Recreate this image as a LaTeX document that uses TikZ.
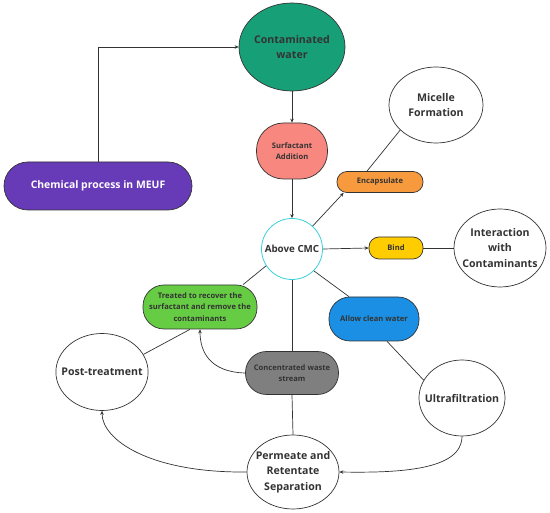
\documentclass[tikz,border=0pt]{standalone}
\usepackage{fontspec}
\setmainfont{Open Sans}
\usetikzlibrary{arrows.meta,shapes.geometric}

\definecolor{waterteal}{HTML}{17A078}
\definecolor{meufpurple}{HTML}{673AB7}
\definecolor{surfsalmon}{HTML}{F8877F}
\definecolor{encorange}{HTML}{F79A3E}
\definecolor{bindyellow}{HTML}{FFCC00}
\definecolor{cleanblue}{HTML}{1A8FE3}
\definecolor{wastegray}{HTML}{7F7F7F}
\definecolor{treatgreen}{HTML}{66CC44}
\definecolor{cmccyan}{HTML}{3CD0DC}
\definecolor{inkgray}{HTML}{333333}

\begin{document}
\begin{tikzpicture}[x=1pt,y=-1pt,
  bigtext/.style={font=\bfseries\fontsize{10.6}{15.3}\selectfont, text=inkgray, align=center},
  smalltext/.style={font=\bfseries\fontsize{7.6}{11.2}\selectfont, text=inkgray, align=center},
  ell/.style={ellipse, draw=inkgray, line width=0.7pt, inner sep=-8pt},
  pill/.style={rectangle, draw=inkgray, line width=0.7pt, inner sep=0pt},
  link/.style={draw=inkgray, line width=0.7pt},
  arr/.style={link, -{Stealth[length=4pt,width=3.5pt]}}]

% Frame of the picture
\useasboundingbox (0,0) rectangle (550,513);
\fill[white] (0,0) rectangle (550,513);

% Main chain
\node[ell, fill=waterteal, minimum width=106pt, minimum height=88pt, bigtext] (water) at (292,47) {Contaminated\\water};
\node[pill, fill=meufpurple, minimum width=188pt, minimum height=48pt, rounded corners=24pt, bigtext, text=white, font=\bfseries\fontsize{10.4}{12}\selectfont] (meuf) at (98,186) {Chemical process in MEUF};
\node[pill, fill=surfsalmon, minimum width=71pt, minimum height=56pt, rounded corners=27pt, smalltext] (surf) at (292,151) {Surfactant\\Addition};
\node[circle, draw=cmccyan, line width=0.8pt, fill=white, minimum size=61pt, inner sep=-8pt, bigtext, font=\bfseries\fontsize{9.8}{11}\selectfont] (cmc) at (292,249) {Above CMC};

% Right branch
\node[pill, fill=encorange, minimum width=86pt, minimum height=21pt, rounded corners=10pt, smalltext] (encap) at (380,182) {Encapsulate};
\node[ell, fill=white, minimum width=94pt, minimum height=76pt, bigtext] (micelle) at (436,105) {Micelle\\Formation};
\node[pill, fill=bindyellow, minimum width=54pt, minimum height=22pt, rounded corners=10pt, smalltext] (bind) at (396,248) {Bind};
\node[ell, fill=white, minimum width=92pt, minimum height=78pt, bigtext] (inter) at (500,248) {Interaction\\with\\Contaminants};
\node[pill, fill=cleanblue, minimum width=90pt, minimum height=44pt, rounded corners=21pt, smalltext] (clean) at (374,319) {Allow clean water};
\node[ell, fill=white, minimum width=86pt, minimum height=76pt, bigtext] (ultra) at (462,398) {Ultrafiltration};

% Lower and left branch
\node[pill, fill=wastegray, minimum width=93pt, minimum height=43pt, rounded corners=21pt, smalltext] (waste) at (292,373) {Concentrated waste\\stream};
\node[ell, fill=white, minimum width=92pt, minimum height=74pt, bigtext] (perm) at (293,472) {Permeate and\\Retentate\\Separation};
\node[pill, fill=treatgreen, minimum width=114pt, minimum height=44pt, rounded corners=21pt, smalltext] (treat) at (200,307) {Treated to recover the\\surfactant and remove the\\contaminants};
\node[ell, fill=white, minimum width=90pt, minimum height=77pt, bigtext] (post) at (102,372) {Post-treatment};

% Arrows along the chain
\draw[arr] (meuf.north) |- (water.west);
\draw[arr] (water.south) -- (surf.north);
\draw[arr] (surf.south) -- (cmc.north);

% Connectors of the branches
\draw[arr] (cmc.48) -- ([xshift=7pt]encap.south west);
\draw[link] ([xshift=-13pt]encap.north) -- (micelle.215);
\draw[arr] (cmc.east) -- (bind.west);
\draw[link] (bind.east) -- (inter.west);
\draw[link] (cmc.-45) -- ([xshift=-25pt]clean.north);
\draw[link] ([xshift=13pt]clean.south) -- (ultra.155);
\draw[link] (cmc.south) -- (waste.north);
\draw[link] (waste.south) -- (perm.north);
\draw[link] (cmc.213) -- ([xshift=43pt]treat.north);
\draw[link] ([xshift=-10pt]treat.south) -- (post.23);

% Curved arrows
\draw[arr] (ultra.south) .. controls (462,470) and (400,473) .. (perm.east);
\draw[arr] (perm.west) .. controls (150,473) and (102,440) .. (post.south);
\draw[arr] (waste.west) .. controls (210,372) and (200,352) .. (treat.south);

\end{tikzpicture}
\end{document}
